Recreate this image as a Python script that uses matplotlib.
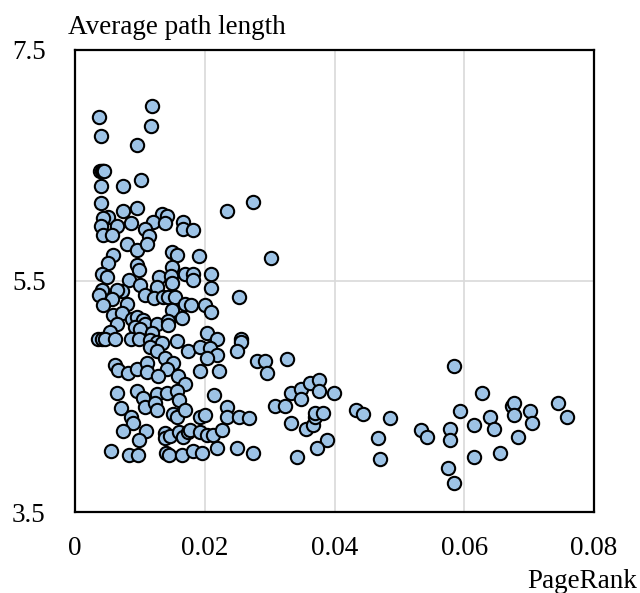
import matplotlib
matplotlib.use("Agg")
import matplotlib.pyplot as plt
from matplotlib import rcParams

# Plot styling (Times-like serif)
rcParams["font.family"] = "serif"
rcParams["font.serif"] = ["Liberation Serif", "DejaVu Serif"]
rcParams["font.size"] = 19.5

# PageRank values
pagerank = [
    0.01182, 0.00374, 0.01171, 0.00401, 0.00955, 0.00385, 0.00416, 0.00431, 0.00447, 0.01017,
    0.00401, 0.00744, 0.00401, 0.00744, 0.00955, 0.02338, 0.00504, 0.00436, 0.01336, 0.01413,
    0.00401, 0.00643, 0.00863, 0.01207, 0.01387, 0.01669, 0.01660, 0.01823, 0.01079, 0.01145,
    0.00427, 0.00566,
    0.00797, 0.00960, 0.01105, 0.01490, 0.01576, 0.00590, 0.01915, 0.00504, 0.00960, 0.00991,
    0.01490, 0.00411, 0.00488, 0.01299, 0.01695, 0.01823, 0.01823, 0.00837, 0.01479, 0.01490,
    0.01002, 0.01268, 0.00411, 0.00374, 0.00720, 0.00643, 0.01079, 0.01222, 0.01361, 0.01438,
    0.01541, 0.00566, 0.00797, 0.00436, 0.01695, 0.01788, 0.01490, 0.00590, 0.00720, 0.01644,
    0.00874, 0.00951, 0.01053, 0.01079, 0.00652, 0.01259, 0.01438, 0.01438, 0.00925, 0.01002,
    0.01182, 0.00539, 0.00359, 0.00411, 0.00462, 0.00616, 0.00863, 0.00991, 0.01156, 0.01259,
    0.01336, 0.01567, 0.01156, 0.01259, 0.01746, 0.01387, 0.01515, 0.00616, 0.00667, 0.00821,
    0.00951, 0.01114, 0.01114, 0.01413, 0.01592, 0.01284,
    0.01695, 0.00652, 0.00960, 0.01053, 0.01079, 0.01259, 0.01233, 0.01268, 0.01422, 0.01567,
    0.01607, 0.00709, 0.00863, 0.00898, 0.01515, 0.01567, 0.01695, 0.00744, 0.01090, 0.00986,
    0.01387, 0.01387, 0.01464, 0.01607, 0.01669, 0.01746, 0.01772, 0.00555, 0.00837, 0.00966,
    0.01402, 0.01453, 0.01644, 0.01823,
    0.02738, 0.03016, 0.02096, 0.02096, 0.02527, 0.02003, 0.02096, 0.02030, 0.02184, 0.02553,
    0.02553, 0.02492, 0.01926, 0.02080, 0.02184, 0.02030, 0.01926, 0.02219, 0.02809, 0.02928,
    0.02954, 0.03262, 0.02147, 0.01926, 0.02003, 0.02338, 0.02338, 0.02532, 0.02681, 0.03082,
    0.03236, 0.03324, 0.03478, 0.03478, 0.03621, 0.03760, 0.03760, 0.03996, 0.03324, 0.03560,
    0.03672, 0.03698, 0.03698, 0.03826, 0.04326, 0.04434, 0.04854, 0.04674, 0.04700, 0.03879,
    0.03725, 0.03416, 0.02738, 0.02492, 0.02184, 0.01952, 0.01926, 0.02030, 0.02131, 0.02261,
    0.05840, 0.06277, 0.05933, 0.05327, 0.05420, 0.05779, 0.05779, 0.05753, 0.05845, 0.06153,
    0.06395, 0.06462, 0.06153, 0.06549, 0.06730, 0.06770, 0.06770, 0.07012, 0.07047, 0.06831,
    0.07448, 0.07577,
]

# Average path length values
avg_path = [
    7.01, 6.92, 6.84, 6.75, 6.67, 6.45, 6.45, 6.45, 6.45, 6.37,
    6.32, 6.32, 6.17, 6.10, 6.13, 6.10, 6.05, 6.04, 6.08, 6.06,
    5.97, 5.97, 6.00, 6.01, 6.00, 6.01, 5.95, 5.94, 5.95, 5.89,
    5.90, 5.90,
    5.82, 5.77, 5.82, 5.75, 5.72, 5.72, 5.71, 5.65, 5.64, 5.59,
    5.62, 5.56, 5.53, 5.53, 5.56, 5.56, 5.51, 5.51, 5.54, 5.48,
    5.46, 5.45, 5.42, 5.38, 5.41, 5.42, 5.38, 5.35, 5.36, 5.36,
    5.36, 5.34, 5.30, 5.29, 5.30, 5.29, 5.25, 5.20, 5.22, 5.18,
    5.17, 5.19, 5.16, 5.13, 5.13, 5.13, 5.15, 5.12, 5.10, 5.08,
    5.05, 5.06, 5.00, 5.00, 5.00, 5.00, 5.00, 5.00, 4.99, 4.97,
    4.96, 4.98, 4.93, 4.89, 4.89, 4.83, 4.79, 4.77, 4.73, 4.70,
    4.74, 4.79, 4.71, 4.74, 4.68, 4.68,
    4.61, 4.53, 4.55, 4.49, 4.41, 4.52, 4.44, 4.38, 4.53, 4.55,
    4.47, 4.40, 4.32, 4.27, 4.35, 4.32, 4.38, 4.20, 4.20, 4.12,
    4.18, 4.14, 4.16, 4.19, 4.15, 4.19, 4.21, 4.03, 3.99, 3.99,
    4.01, 3.99, 3.99, 4.03,
    6.18, 5.70, 5.56, 5.44, 5.36, 5.29, 5.23, 5.05, 5.00, 5.00,
    4.97, 4.89, 4.93, 4.92, 4.86, 4.83, 4.72, 4.72, 4.81, 4.81,
    4.70, 4.82, 4.51, 4.32, 4.34, 4.41, 4.32, 4.32, 4.31, 4.42,
    4.42, 4.53, 4.56, 4.48, 4.62, 4.64, 4.55, 4.53, 4.27, 4.22,
    4.25, 4.32, 4.36, 4.36, 4.38, 4.35, 4.31, 4.14, 3.96, 4.12,
    4.05, 3.98, 4.01, 4.05, 4.05, 4.01, 4.19, 4.17, 4.17, 4.21,
    4.76, 4.53, 4.37, 4.21, 4.15, 4.22, 4.12, 3.88, 3.75, 4.25,
    4.32, 4.22, 3.98, 4.01, 4.42, 4.44, 4.34, 4.37, 4.27, 4.15,
    4.44, 4.32,
]

x_ticks = [0, 0.02, 0.04, 0.06, 0.08]
x_tick_labels = ["0", "0.02", "0.04", "0.06", "0.08"]
y_ticks = [3.5, 5.5, 7.5]
y_tick_labels = ["3.5", "5.5", "7.5"]

fig = plt.figure(figsize=(6.4, 5.93), dpi=100)
ax = fig.add_axes([75 / 640, 1 - 512 / 593, 519 / 640, 462.5 / 593])

ax.scatter(pagerank, avg_path, s=92, color="#9DC3E6", edgecolors="black",
           linewidths=1.5, zorder=3, clip_on=False)

ax.set_xlim(0, 0.08)
ax.set_ylim(3.5, 7.5)
ax.set_xticks(x_ticks)
ax.set_xticklabels(x_tick_labels)
ax.set_yticks(y_ticks)
ax.set_yticklabels(y_tick_labels)
ax.tick_params(axis="both", length=0)
ax.tick_params(axis="x", pad=17)
ax.tick_params(axis="y", pad=21)

ax.grid(True, color="#D9D9D9", linewidth=1.2, zorder=0)
ax.set_axisbelow(True)
for spine in ax.spines.values():
    spine.set_linewidth(1.6)
    spine.set_color("black")

fig.text(68 / 640, 1 - 28 / 593, "Average path length", ha="left", va="center")
fig.text(637 / 640, 1 - 582 / 593, "PageRank", ha="right", va="center")

fig.savefig("out.png", dpi=100)
